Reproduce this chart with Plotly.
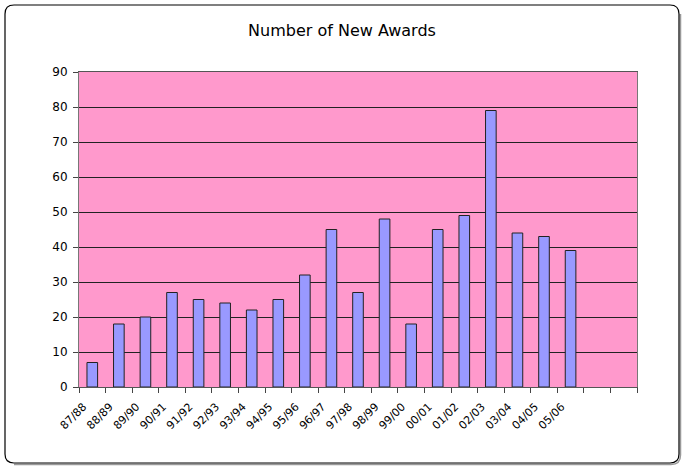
import plotly.graph_objects as go

categories = ["87/88", "88/89", "89/90", "90/91", "91/92", "92/93", "93/94", "94/95",
              "95/96", "96/97", "97/98", "98/99", "99/00", "00/01", "01/02", "02/03",
              "03/04", "04/05", "05/06"]
awards = [7, 18, 20, 27, 25, 24, 22, 25, 32, 45, 27, 48, 18, 45, 49, 79, 44, 43, 39]
empty_slots = [" ", "  "]
y_ticks = [0, 10, 20, 30, 40, 50, 60, 70, 80, 90]

W, H = 684, 468
L, R, T, B = 79, 47, 72, 81
pw, ph = W - L - R, H - T - B


def px(x):
    return (x - L) / pw


def py(y):
    return (H - B - y) / ph


# rounded frame path in paper coords
x0, x1, y0, y1, r = 5, 679, 5, 463, 9
path = (f"M {px(x0 + r)},{py(y0)} L {px(x1 - r)},{py(y0)} "
        f"Q {px(x1)},{py(y0)} {px(x1)},{py(y0 + r)} "
        f"L {px(x1)},{py(y1 - r)} Q {px(x1)},{py(y1)} {px(x1 - r)},{py(y1)} "
        f"L {px(x0 + r)},{py(y1)} Q {px(x0)},{py(y1)} {px(x0)},{py(y1 - r)} "
        f"L {px(x0)},{py(y0 + r)} Q {px(x0)},{py(y0)} {px(x0 + r)},{py(y0)} Z")
shadow = (f"M {px(x1 + 1.5)},{py(y0 + r)} L {px(x1 + 1.5)},{py(y1 - r + 1)} "
          f"Q {px(x1 + 1.5)},{py(y1 + 1.5)} {px(x1 - r + 1)},{py(y1 + 1.5)} "
          f"L {px(x0 + r)},{py(y1 + 1.5)}")

fig = go.Figure(go.Bar(
    x=categories, y=awards,
    marker=dict(color="#9999FF", line=dict(color="#222222", width=1)),
    width=0.4,
))

fig.update_layout(
    width=W, height=H,
    margin=dict(l=L, r=R, t=T, b=B),
    paper_bgcolor="white",
    plot_bgcolor="#FF99CC",
    showlegend=False,
    title=dict(text="Number of New Awards", x=0.5, xanchor="center",
               y=1 - 30 / H, yanchor="middle",
               font=dict(family="Verdana, DejaVu Sans", size=16, color="black")),
    font=dict(family="Verdana, DejaVu Sans", color="black"),
    xaxis=dict(
        type="category",
        categoryorder="array",
        categoryarray=categories + empty_slots,
        range=[-0.5, len(categories) + len(empty_slots) - 0.5],
        tickson="boundaries",
        ticks="outside", ticklen=5, tickcolor="#444444",
        tickangle=-45,
        tickfont=dict(size=11),
        ticklabelshift=-9,
        ticklabelstandoff=8,
        showgrid=False,
        showline=True, linecolor="#555555", linewidth=1, mirror=True,
    ),
    yaxis=dict(
        range=[0, 90],
        tickvals=y_ticks,
        ticks="outside", ticklen=5, tickcolor="#444444",
        tickfont=dict(size=12),
        ticklabelstandoff=3,
        showgrid=True, gridcolor="#222222", gridwidth=1,
        showline=True, linecolor="#777777", linewidth=1, mirror=True,
        zeroline=False,
    ),
    shapes=[
        dict(type="path", path=shadow, xref="paper", yref="paper",
             line=dict(color="#999999", width=1.5), layer="below"),
        dict(type="path", path=path, xref="paper", yref="paper",
             line=dict(color="black", width=1.2), layer="below"),
    ],
    bargap=0.6,
)

fig.write_html("out.html",
               config={"displayModeBar": False},
               post_script="document.body.style.margin='0';document.body.style.overflow='hidden';")
